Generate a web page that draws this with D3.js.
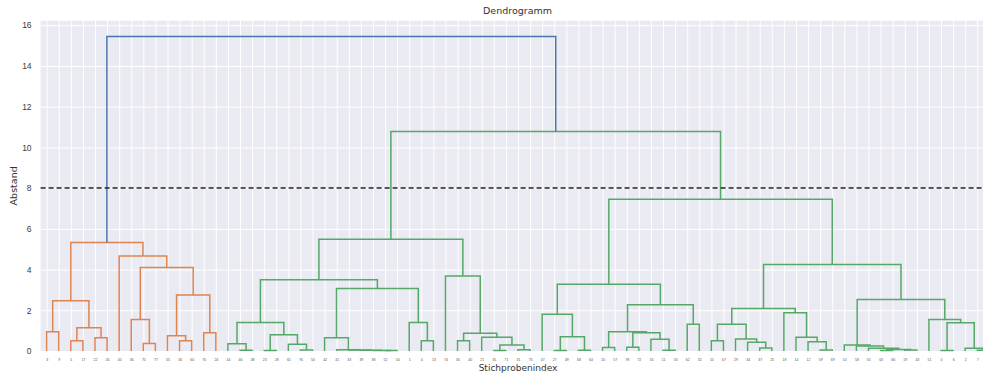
<!DOCTYPE html>
<html>
<head>
<meta charset="utf-8">
<script src="https://cdn.jsdelivr.net/npm/d3@7/dist/d3.min.js"></script>
<style>
  body { margin: 0; background: #fff; }
  svg { display: block; font-family: "DejaVu Sans", sans-serif; }
</style>
</head>
<body>
<div id="container"></div>
<script>
// leaf labels in dendrogram order (sample indices)
const leafLabels = [
  3, 9, 5, 17, 22, 26, 45, 36, 75, 77, 55, 56, 60, 70, 24,
  44, 46, 48, 23, 28, 65, 76, 50, 42, 41, 33, 39, 38, 52, 54, 1, 4, 13, 74, 30, 40, 21, 35, 71, 31, 73,
  47, 27, 49, 68, 64, 20, 57, 78, 72, 16, 11, 53, 62, 32, 15, 67, 29, 34, 37, 25, 18, 14, 12, 59, 69,
  10, 58, 61, 63, 66, 19, 43, 51, 0, 6, 2, 7, 8
];

// linkage rows: [left, right, distance]; ids < n are leaf positions, ids >= n are earlier rows
const linkage = [
  [0, 1, 0.95], [2, 3, 0.50], [4, 5, 0.65], [80, 81, 1.14], [79, 82, 2.47],
  [8, 9, 0.37], [7, 84, 1.55], [11, 12, 0.50], [10, 86, 0.75], [13, 14, 0.90],
  [87, 88, 2.75], [85, 89, 4.10], [6, 90, 4.67], [83, 91, 5.33],
  [16, 17, 0.04], [15, 93, 0.35], [18, 19, 0.03], [21, 22, 0.05], [20, 96, 0.33],
  [95, 97, 0.80], [94, 98, 1.40], [28, 29, 0.02], [27, 100, 0.03], [26, 101, 0.04],
  [25, 102, 0.05], [24, 103, 0.06], [23, 104, 0.65], [31, 32, 0.50], [30, 106, 1.40],
  [105, 107, 3.07], [99, 108, 3.50], [34, 35, 0.50], [37, 38, 0.03], [39, 40, 0.06],
  [111, 112, 0.30], [36, 113, 0.67], [110, 114, 0.87], [33, 115, 3.68], [109, 116, 5.49],
  [42, 43, 0.03], [44, 45, 0.04], [118, 119, 0.70], [41, 120, 1.80], [46, 47, 0.17],
  [48, 49, 0.18], [51, 52, 0.04], [50, 124, 0.58], [123, 125, 0.90], [122, 126, 0.95],
  [53, 54, 1.31], [127, 128, 2.27], [121, 129, 3.28], [55, 56, 0.50], [59, 60, 0.15],
  [58, 132, 0.43], [57, 133, 0.59], [131, 134, 1.31], [64, 65, 0.05], [63, 136, 0.46],
  [62, 137, 0.67], [61, 138, 1.88], [135, 139, 2.09], [69, 70, 0.03], [71, 72, 0.05],
  [141, 142, 0.07], [68, 143, 0.14], [67, 144, 0.25], [66, 145, 0.30], [74, 75, 0.03],
  [77, 78, 0.04], [76, 148, 0.13], [147, 149, 1.39], [73, 150, 1.55], [146, 151, 2.53],
  [140, 152, 4.25], [130, 153, 7.45], [117, 154, 10.78], [92, 155, 15.45]
];

const yTicks = [0, 2, 4, 6, 8, 10, 12, 14, 16];
const cutHeight = 8;
const clusterColors = ["#DD8452", "#55A868"];
const aboveColor = "#4C72B0";

// layout
const W = 983, H = 373;
const plot = { left: 40.6, right: 995.4, top: 20.7, bottom: 351 };
const n = leafLabels.length;

const svg = d3.select("#container").append("svg")
  .attr("width", W).attr("height", H);

const x = d3.scaleLinear().domain([0, 10 * n]).range([plot.left, plot.right]);
const maxH = d3.max(linkage, d => d[2]);
const y = d3.scaleLinear().domain([0, maxH * 1.05]).range([plot.bottom, plot.top]);

// node positions
const nodes = [];
leafLabels.forEach((lab, i) => nodes.push({ x: 5 + 10 * i, h: 0 }));
linkage.forEach(([a, b, h]) => {
  nodes.push({ x: (nodes[a].x + nodes[b].x) / 2, h: h, a: a, b: b });
});

// colour assignment like scipy's color_threshold (0.7 * max)
const threshold = 0.7 * maxH;
const linkColor = {};
let colorIdx = 0;
function paint(id, c) {
  if (id < n) return;
  linkColor[id] = c;
  paint(nodes[id].a, c);
  paint(nodes[id].b, c);
}
function assign(id) {
  if (id < n) return;
  if (nodes[id].h >= threshold) {
    linkColor[id] = aboveColor;
    assign(nodes[id].a);
    assign(nodes[id].b);
  } else {
    paint(id, clusterColors[colorIdx++ % clusterColors.length]);
  }
}
assign(nodes.length - 1);

// background
svg.append("rect")
  .attr("x", plot.left).attr("y", plot.top)
  .attr("width", plot.right - plot.left).attr("height", plot.bottom - plot.top)
  .attr("fill", "#EAEAF2");

// grid
const leafTicks = leafLabels.map((d, i) => 5 + 10 * i);
svg.append("g")
  .attr("transform", `translate(0,${plot.bottom})`)
  .call(d3.axisBottom(x).tickValues(leafTicks).tickSize(-(plot.bottom - plot.top)).tickFormat(""))
  .call(g => g.select(".domain").remove())
  .call(g => g.selectAll("line").attr("stroke", "#fff").attr("stroke-width", 1));
svg.append("g")
  .attr("transform", `translate(${plot.left},0)`)
  .call(d3.axisLeft(y).tickValues(yTicks).tickSize(-(plot.right - plot.left)).tickFormat(""))
  .call(g => g.select(".domain").remove())
  .call(g => g.selectAll("line").attr("stroke", "#fff").attr("stroke-width", 1));

// links
const links = nodes.slice(n).map((d, k) => ({ id: n + k, ...d }));
svg.append("g")
  .selectAll("path")
  .data(links)
  .enter()
  .append("path")
  .attr("fill", "none")
  .attr("stroke", d => linkColor[d.id])
  .attr("stroke-width", 1.5)
  .attr("d", d => {
    const l = nodes[d.a], r = nodes[d.b];
    return `M${x(l.x)},${y(l.h)}V${y(d.h)}H${x(r.x)}V${y(r.h)}`;
  });

// cut line
svg.append("line")
  .attr("x1", plot.left).attr("x2", plot.right)
  .attr("y1", y(cutHeight)).attr("y2", y(cutHeight))
  .attr("stroke", "#222").attr("stroke-width", 1.5)
  .attr("stroke-dasharray", "5,3");

// y axis labels
svg.append("g")
  .attr("transform", `translate(${plot.left},0)`)
  .call(d3.axisLeft(y).tickValues(yTicks).tickSize(0).tickPadding(9))
  .call(g => g.select(".domain").remove())
  .call(g => g.selectAll("text").attr("fill", "#3a3a3a").style("font-size", "8.5px"));

// x axis labels (leaf labels), only those inside the picture
const visibleTicks = leafTicks.filter(t => x(t) < W - 3);
svg.append("g")
  .attr("transform", `translate(0,${plot.bottom})`)
  .call(d3.axisBottom(x).tickValues(visibleTicks).tickSize(0).tickPadding(8)
    .tickFormat((d, i) => leafLabels[i]))
  .call(g => g.select(".domain").remove())
  .call(g => g.selectAll("text").attr("fill", "#555").style("font-size", "3.5px"));

// titles
svg.append("text")
  .attr("x", 517.5).attr("y", 13.5)
  .attr("text-anchor", "middle")
  .attr("fill", "#333").style("font-size", "9.5px")
  .text("Dendrogramm");

svg.append("text")
  .attr("x", 518).attr("y", 371)
  .attr("text-anchor", "middle")
  .attr("fill", "#333").style("font-size", "9px")
  .text("Stichprobenindex");

svg.append("text")
  .attr("transform", `translate(17,${(plot.top + plot.bottom) / 2}) rotate(-90)`)
  .attr("text-anchor", "middle")
  .attr("fill", "#333").style("font-size", "9.5px")
  .text("Abstand");
</script>
</body>
</html>
